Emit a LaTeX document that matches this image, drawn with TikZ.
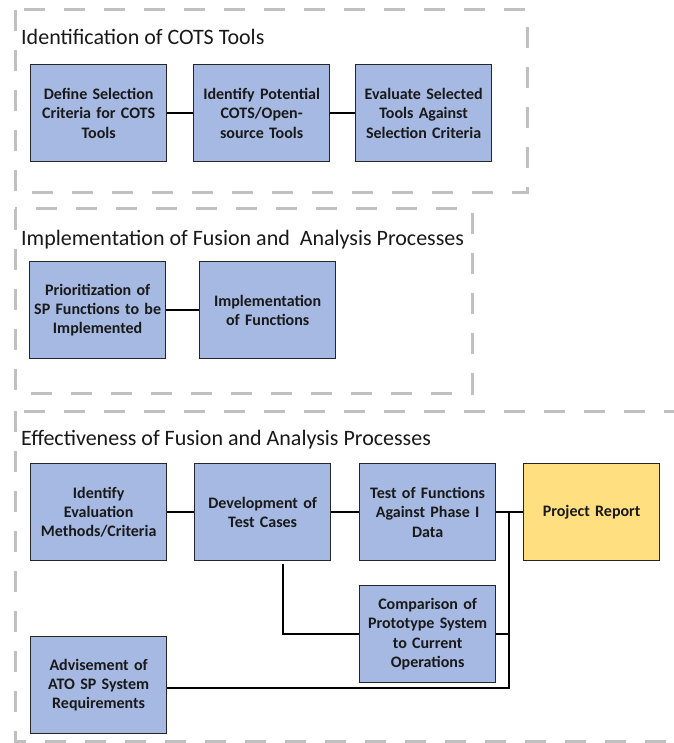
\documentclass[tikz,border=0pt]{standalone}
\usepackage{fontspec}
\setmainfont{Carlito}
\definecolor{boxblue}{HTML}{A6B9E2}
\definecolor{boxgold}{HTML}{FFDF80}
\definecolor{dashgray}{HTML}{C0C0C0}
\definecolor{edge}{HTML}{262626}
\begin{document}
\begin{tikzpicture}[x=1pt,y=-1pt,
  group/.style={draw=dashgray,line width=3pt,dash pattern=on 21pt off 19pt},
  grouptitle/.style={anchor=base west,inner sep=0pt,font=\fontsize{22}{26}\selectfont,text=black!90},
  procbox/.style={draw=edge,line width=1.3pt,fill=boxblue,minimum width=136pt,minimum height=97pt,
     anchor=north west,align=center,text width=128pt,inner sep=0pt,
     font=\bfseries\fontsize{16}{19.3}\selectfont,text=black!90},
  goldbox/.style={procbox,fill=boxgold},
  link/.style={draw=black,line width=2pt}]
\useasboundingbox (0,0) rectangle (673,743);
\fill[white] (0,0) rectangle (673,743);
% groups
\draw[group] (15,10) rectangle (527,193);
\draw[group] (15,209) rectangle (472,393);
\draw[group] (15,411) rectangle (720,741);
\node[grouptitle] (t1) at (21,45) {Identification of COTS Tools};
\node[grouptitle] (t2) at (21,245) {Implementation of Fusion and~ Analysis Processes};
\node[grouptitle] (t3) at (21,445) {Effectiveness of Fusion and Analysis Processes};
% group 1
\node[procbox] (a1) at (30,64) {Define Selection\\Criteria for COTS\\Tools};
\node[procbox] (a2) at (193,64) {Identify Potential\\COTS/Open-\\source Tools};
\node[procbox] (a3) at (355,64) {Evaluate Selected\\Tools Against\\Selection Criteria};
% group 2
\node[procbox] (b1) at (29,261) {Prioritization of\\SP Functions to be\\Implemented};
\node[procbox] (b2) at (199,261) {Implementation\\of Functions};
% group 3
\node[procbox] (c1) at (30,463) {Identify\\Evaluation\\Methods/Criteria};
\node[procbox] (c2) at (194,463) {Development of\\Test Cases};
\node[procbox] (c3) at (359,463) {Test of Functions\\Against Phase I\\Data};
\node[goldbox] (c4) at (523,463) {Project Report};
\node[procbox] (c5) at (359,585) {Comparison of\\Prototype System\\to Current\\Operations};
\node[procbox] (c6) at (30,636) {Advisement of\\ATO SP System\\Requirements};
% connectors
\draw[link] (a1) -- (a2);
\draw[link] (a2) -- (a3);
\draw[link] (b1) -- (b2);
\draw[link] (c1) -- (c2);
\draw[link] (c2) -- (c3);
\draw[link] (c3) -- (c4);
\coordinate (dv) at (283,564);
\coordinate (jx) at (509,512);
\coordinate (jb) at (509,688);
\draw[link] (dv) |- (c5.west);
\draw[link] (c5.east) -| (jx);
\draw[link] (jx) -- (jb) -- (c6.east |- jb);
\end{tikzpicture}
\end{document}
